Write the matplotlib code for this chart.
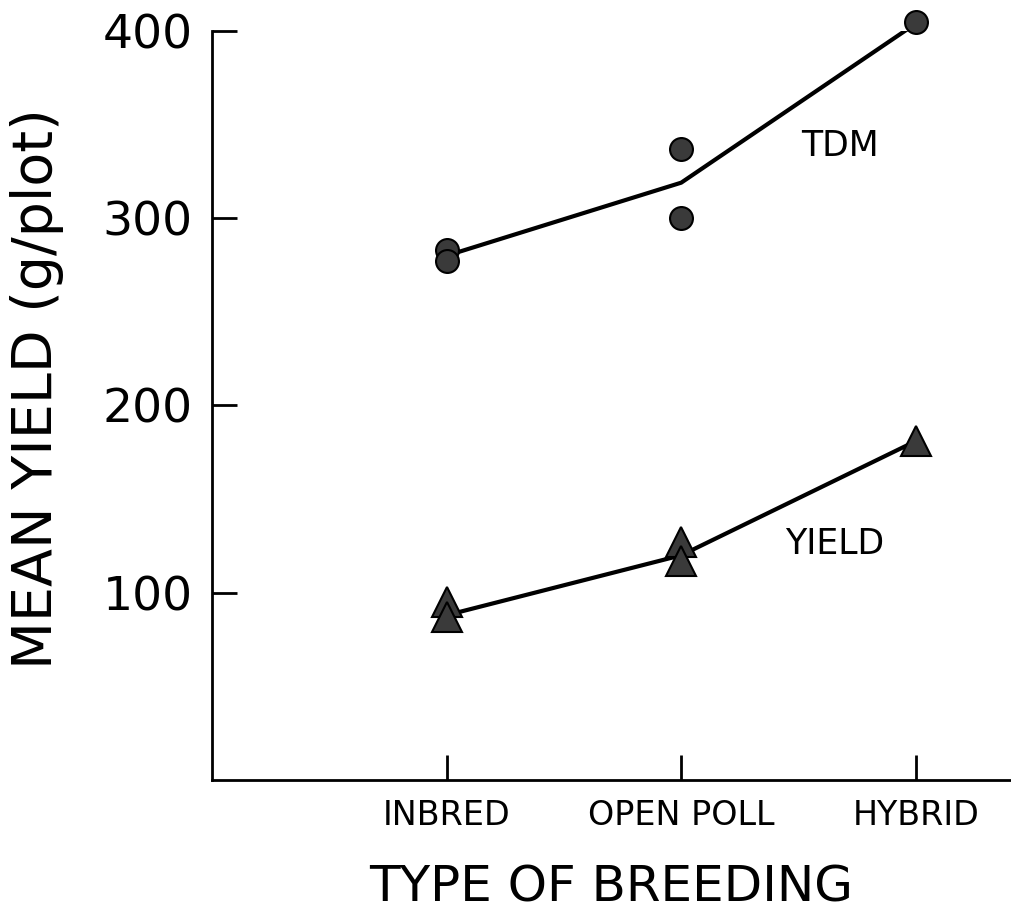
import matplotlib.pyplot as plt
import numpy as np

# Breeding types along the x axis
breeding = ['INBRED', 'OPEN POLL', 'HYBRID']
xpos = [1, 2, 3]

# Individual observations (g/plot)
tdm_x = [1, 1, 2, 2, 3]
tdm_pts = [283, 277, 337, 300, 405]
yield_x = [1, 1, 2, 2, 3]
yield_pts = [95, 87, 127, 117, 181]

# Fitted lines through the breeding types
tdm_line = [280, 319, 404]
yield_line = [88, 120, 181]

yticks = [100, 200, 300, 400]

fig = plt.figure(figsize=(10.11, 9.17), dpi=100)
ax = fig.add_axes([0.2097, 0.1494, 0.789, 0.8168])

# Lines first, markers on top
ax.plot(xpos, tdm_line, color='black', lw=3, solid_capstyle='round', zorder=2)
ax.plot(xpos, yield_line, color='black', lw=3, solid_capstyle='round', zorder=2)
ax.plot(tdm_x, tdm_pts, 'o', ms=16.5, mfc='#3a3a3a', mec='black', mew=1.5,
        clip_on=False, zorder=3)
ax.plot(yield_x, yield_pts, '^', ms=21, mfc='#3a3a3a', mec='black', mew=1.5,
        clip_on=False, zorder=3)

# Series labels
ax.text(2.677, 338.5, 'TDM', fontsize=25, ha='center', va='center')
ax.text(2.652, 126, 'YIELD', fontsize=25, ha='center', va='center')

ax.set_xlim(0, 3.4)
ax.set_ylim(0, 400)

ax.set_xticks(xpos)
ax.set_xticklabels(breeding, fontsize=24)
ax.set_yticks(yticks)
ax.set_yticklabels([str(v) for v in yticks], fontsize=34)

ax.tick_params(axis='both', direction='in', length=18, width=2, color='black')
ax.tick_params(axis='x', pad=14)
ax.tick_params(axis='y', pad=14)

for side in ['top', 'right']:
    ax.spines[side].set_visible(False)
for side in ['left', 'bottom']:
    ax.spines[side].set_linewidth(2)

ax.set_xlabel('TYPE OF BREEDING', fontsize=36, labelpad=22)
ax.set_ylabel('MEAN YIELD (g/plot)', fontsize=40)
ax.yaxis.set_label_coords(-0.186, 0.523)

fig.savefig('out.png', dpi=100)
